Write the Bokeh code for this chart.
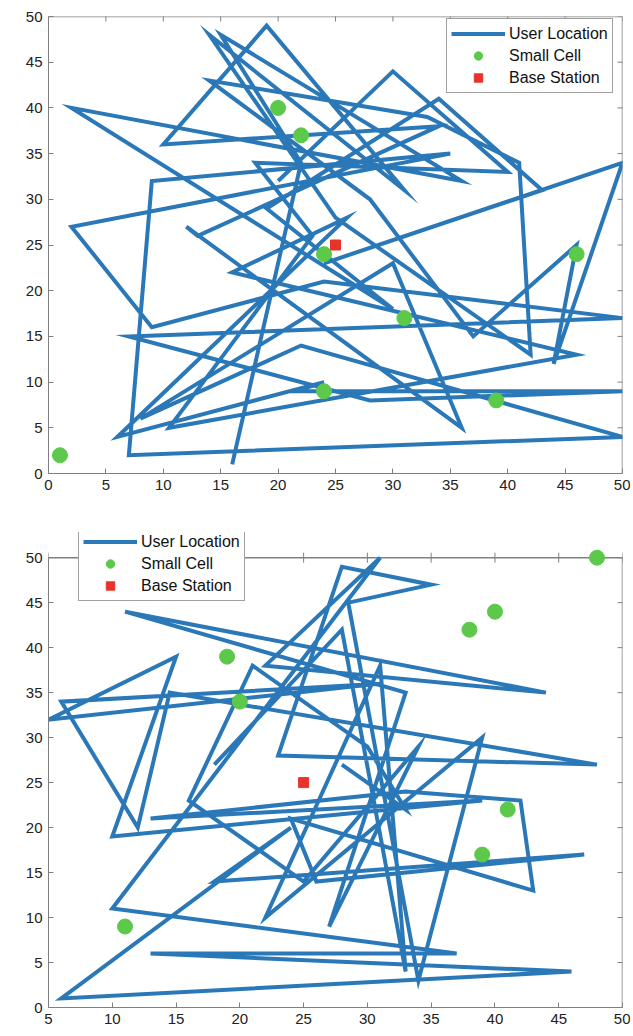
import math
from bokeh.plotting import figure
from bokeh.layouts import column
from bokeh.models import Range1d, FixedTicker, Legend, LegendItem
from bokeh.embed import file_html
from bokeh.resources import INLINE

# ---------------- data: top panel ----------------
top_user_x = [16, 22, 15, 36, 2, 30, 19, 34, 43, 24, 50, 44, 46, 37, 28, 14, 33, 41, 42, 25,
              14, 31, 19, 10, 34, 13, 12, 36, 30, 8, 22, 50, 7, 9, 35, 2, 9, 24, 50, 7,
              28, 50, 21.5, 24, 6, 26, 16, 46, 10.5, 23, 18, 40, 30, 20]
top_user_y = [1, 34, 48, 32, 40, 18, 29, 41, 31, 23, 34, 12, 25, 15, 30, 43, 39, 34, 13, 28,
              48, 31, 49, 36, 38, 26, 27, 5, 23, 6, 14, 4, 2, 32, 35, 27, 16, 21, 17, 15,
              8, 9, 9, 10, 4, 28, 22, 13, 5, 26, 34, 33, 44, 32]
top_cell_x = [20, 22, 24, 46, 31, 24, 39, 1]
top_cell_y = [40, 37, 24, 24, 17, 9, 8, 2]
top_bs_x = [25]
top_bs_y = [25]
top_xlim = (0, 50)
top_ylim = (0, 50)
top_ticks_x = [0, 5, 10, 15, 20, 25, 30, 35, 40, 45, 50]
top_ticks_y = [0, 5, 10, 15, 20, 25, 30, 35, 40, 45, 50]

# ---------------- data: bottom panel ----------------
bot_user_x = [18, 28, 33, 31, 22, 39, 34, 28.5, 35, 28, 23, 48, 14.5, 12, 6, 31, 5, 15, 10, 39,
              13, 33, 42, 43, 24, 26, 47, 18, 24, 6, 46, 13, 37, 10, 31, 22, 44, 11, 33, 27,
              34, 25, 16, 21, 30, 33, 28]
bot_user_y = [27, 42, 4, 38, 10, 30, 3, 45, 47, 49, 28, 27, 35, 20, 34, 36, 32, 39, 19, 23,
              21, 24, 23, 13, 21, 14, 17, 14, 20, 1, 4, 6, 6, 11, 50, 38, 35, 44, 35, 9,
              29, 14, 23, 38, 29, 22, 27]
bot_cell_x = [19, 20, 48, 38, 40, 41, 39, 11]
bot_cell_y = [39, 34, 50, 42, 44, 22, 17, 9]
bot_bs_x = [25]
bot_bs_y = [25]
bot_xlim = (5, 50)
bot_ylim = (0, 50)
bot_ticks_x = [5, 10, 15, 20, 25, 30, 35, 40, 45, 50]
bot_ticks_y = [0, 5, 10, 15, 20, 25, 30, 35, 40, 45, 50]

LINE = "#2A78B8"
GREEN = "#5CC94A"
RED = "#E8332A"
AXC = "#808080"
FONT = "Liberation Sans"


def style_axis(ax, ticks, bounds):
    ax.ticker = FixedTicker(ticks=ticks)
    ax.bounds = bounds
    ax.axis_line_color = AXC
    ax.major_tick_line_color = AXC
    ax.major_tick_in = 5
    ax.major_tick_out = 0
    ax.minor_tick_line_color = None
    ax.major_label_text_font = FONT
    ax.major_label_text_font_size = "15px"
    ax.major_label_text_color = "#222222"
    ax.major_label_standoff = 6


def make_panel(ux, uy, cx, cy, bx, by, xlim, ylim, tx, ty, w, h, borders,
               legend_loc, y_extra):
    p = figure(width=w, height=h, x_range=Range1d(*xlim),
               y_range=Range1d(ylim[0], ylim[1] + y_extra),
               output_backend="svg", toolbar_location=None,
               min_border_left=borders[0], min_border_right=borders[1],
               min_border_top=borders[2], min_border_bottom=borders[3])
    p.xgrid.visible = False
    p.ygrid.visible = False
    p.outline_line_color = None
    p.background_fill_color = "white"
    p.border_fill_color = "white"
    # box edges (top and right) of the axes
    p.line([xlim[0], xlim[1], xlim[1]], [ylim[1], ylim[1], ylim[0]],
           line_color=AXC, line_width=1.5)
    # inward ticks on top and right edges
    p.scatter(tx, [ylim[1]] * len(tx), marker="dash", angle=math.pi / 2, size=10,
              line_color=AXC, line_width=1)
    p.scatter([xlim[1]] * len(ty), ty, marker="dash", size=10,
              line_color=AXC, line_width=1)
    r_line = p.line(ux, uy, line_color=LINE, line_width=4, line_join="miter")
    r_cell = p.scatter(cx, cy, marker="circle", size=15, fill_color=GREEN, line_color=GREEN)
    r_bs = p.scatter(bx, by, marker="square", size=10, fill_color=RED, line_color=RED)
    style_axis(p.xaxis[0], tx, xlim)
    style_axis(p.yaxis[0], ty, ylim)
    leg = Legend(items=[LegendItem(label="User Location", renderers=[r_line]),
                        LegendItem(label="Small Cell", renderers=[r_cell]),
                        LegendItem(label="Base Station", renderers=[r_bs])],
                 location=legend_loc)
    leg.label_text_font = FONT
    leg.label_text_font_size = "16px"
    leg.label_text_color = "#111111"
    leg.glyph_width = 54
    leg.glyph_height = 21
    leg.label_height = 21
    leg.spacing = 1
    leg.padding = 4
    leg.margin = 0
    leg.label_standoff = 4
    leg.border_line_color = "#444444"
    leg.border_line_width = 1
    leg.background_fill_alpha = 1.0
    p.add_layout(leg, "center")
    return p


p1 = make_panel(top_user_x, top_user_y, top_cell_x, top_cell_y, top_bs_x, top_bs_y,
                top_xlim, top_ylim, top_ticks_x, top_ticks_y, 630, 504,
                (37, 8, 16, 31), (398, 380), 0.0)
p2 = make_panel(bot_user_x, bot_user_y, bot_cell_x, bot_cell_y, bot_bs_x, bot_bs_y,
                bot_xlim, bot_ylim, bot_ticks_x, bot_ticks_y, 630, 527,
                (48, 8, 28, 24), (30, 406), 2.8)

layout = column(p1, p2, spacing=0)
open("out.html", "w").write(file_html(layout, INLINE))
